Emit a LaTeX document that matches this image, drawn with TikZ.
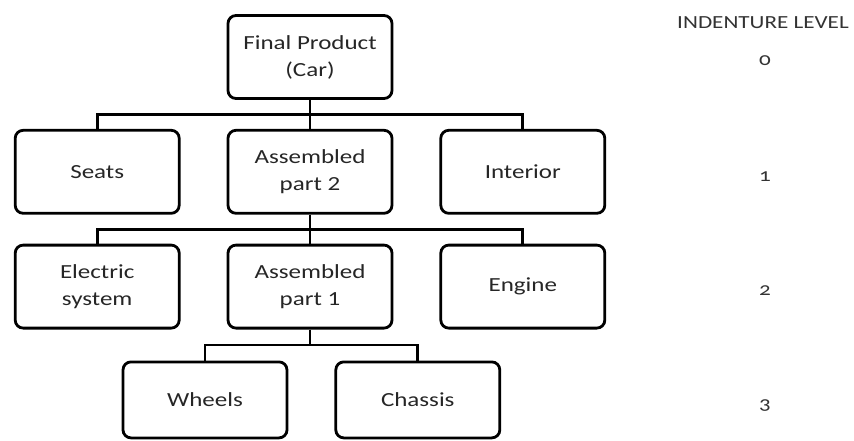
\documentclass[tikz,border=0pt]{standalone}
\usepackage{fontspec}
\setmainfont{Carlito}[FakeStretch=1.25]
\usetikzlibrary{positioning}

\tikzset{
  part/.style={draw, rectangle, rounded corners=8pt, line width=2.8pt,
    minimum width=164pt, minimum height=83pt, align=center,
    text=black!85, font=\fontsize{20}{27}\selectfont},
  link/.style={line width=2.8pt},
  level/.style={text=black!80, font=\fontsize{18.5}{22}\selectfont\addfontfeatures{Numbers=OldStyle}}
}

\begin{document}
\begin{tikzpicture}[x=1pt, y=1pt]
  \useasboundingbox (0,0) rectangle (854,-440);

  \node[part] (car) at (310,-57) {Final Product\\(Car)};

  \node[part, below=29pt of car] (asm2) {Assembled\\part 2};
  \node[part, left=46pt of asm2] (seats) {Seats};
  \node[part, right=46pt of asm2] (interior) {Interior};

  \node[part, below=29pt of asm2] (asm1) {Assembled\\part 1};
  \node[part, left=46pt of asm1] (electric) {Electric\\system};
  \node[part, right=46pt of asm1] (engine) {Engine};

  \node[part, minimum height=76pt, below=31pt of asm1, xshift=-105pt] (wheels) {Wheels};
  \node[part, minimum height=76pt, right=46pt of wheels] (chassis) {Chassis};

  \draw[link] (car.south) -- ++(0,-14.5) -| (seats.north);
  \draw[link] (car.south) -- ++(0,-14.5) -| (interior.north);
  \draw[link] (car) -- (asm2);

  \draw[link] (asm2.south) -- ++(0,-14.5) -| (electric.north);
  \draw[link] (asm2.south) -- ++(0,-14.5) -| (engine.north);
  \draw[link] (asm2) -- (asm1);

  \draw[link] (asm1.south) -- ++(0,-15.5) -| (wheels.north);
  \draw[link] (asm1.south) -- ++(0,-15.5) -| (chassis.north);

  \node[level] (title) at (763,-23) {INDENTURE LEVEL};
  \node[level] (lvl0) at (765,-61) {0};
  \node[level] (lvl1) at (765,-177) {1};
  \node[level] (lvl2) at (765,-291) {2};
  \node[level] (lvl3) at (765,-406) {3};
\end{tikzpicture}
\end{document}
